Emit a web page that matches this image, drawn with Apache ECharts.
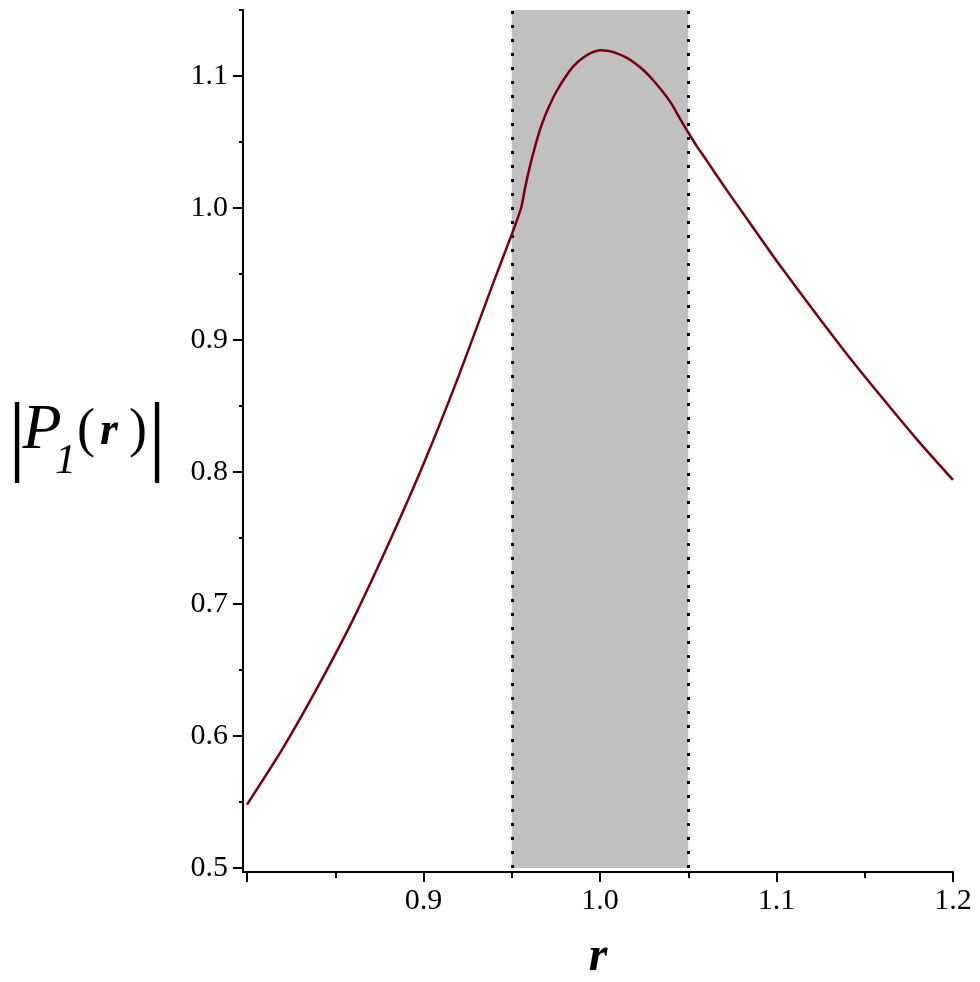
<!DOCTYPE html>
<html>
<head>
<meta charset="utf-8">
<script src="https://cdn.jsdelivr.net/npm/echarts@6/dist/echarts.min.js"></script>
<style>
html,body{margin:0;padding:0;background:#fff;}
#chart{width:980px;height:982px;}
</style>
</head>
<body>
<div id="chart"></div>
<script>
// ---- data ----
const rValues = [0.800, 0.820, 0.840, 0.860, 0.880, 0.900, 0.920, 0.940, 0.950, 0.9553,
  0.9575, 0.960, 0.9625, 0.965, 0.9675, 0.970, 0.975, 0.980, 0.985, 0.990, 0.995, 1.000,
  1.005, 1.010, 1.015, 1.020, 1.025, 1.030, 1.035, 1.040, 1.045, 1.050, 1.055, 1.060,
  1.070, 1.080, 1.090, 1.100, 1.120, 1.140, 1.160, 1.180, 1.200];
const pValues = [0.548, 0.590, 0.637, 0.688, 0.745, 0.806, 0.873, 0.945, 0.980, 1.000,
  1.015, 1.030, 1.043, 1.055, 1.065, 1.0735, 1.0875, 1.0985, 1.1075, 1.1135, 1.1175, 1.1195,
  1.1189, 1.117, 1.1139, 1.1095, 1.104, 1.097, 1.089, 1.080, 1.0685, 1.0572, 1.0465, 1.0368,
  1.017, 0.998, 0.979, 0.960, 0.924, 0.889, 0.856, 0.824, 0.794];
const bandStart = 0.95, bandEnd = 1.05;
const xMajorTicks = [0.8, 0.9, 1.0, 1.1, 1.2];
const xLabelTicks = [0.9, 1.0, 1.1, 1.2];
const xMinorTicks = [0.85, 0.95, 1.05, 1.15];
const yMajorTicks = [0.5, 0.6, 0.7, 0.8, 0.9, 1.0, 1.1];
const yMinorTicks = [0.55, 0.65, 0.75, 0.85, 0.95, 1.05, 1.15];
const xRange = [0.79773, 1.2];
const yRange = [0.49697, 1.15];
const yBase = 0.5, yTop = 1.15;

const font = "'Liberation Serif', 'Times New Roman', serif";
const curve = rValues.map((r, i) => [r, pValues[i]]);

const chart = echarts.init(document.getElementById('chart'), null, {renderer: 'canvas'});
const gridBox = {left: 243, right: 27, top: 10, bottom: 110, containLabel: false, outerBoundsMode: 'none'};

const option = {
  backgroundColor: '#fff',
  animation: false,
  grid: [Object.assign({}, gridBox), Object.assign({}, gridBox)],
  xAxis: [{
    type: 'value', gridIndex: 0, min: xRange[0], max: xRange[1],
    splitLine: {show: false},
    axisLine: {show: true, lineStyle: {color: '#000', width: 2}},
    axisTick: {show: true, length: 10, lineStyle: {color: '#000', width: 2}, customValues: xMajorTicks},
    axisLabel: {show: true, customValues: xLabelTicks, margin: 14, color: '#000',
      fontFamily: font, fontSize: 30, formatter: v => v.toFixed(1)},
    name: 'r', nameLocation: 'middle', nameGap: 62,
    nameTextStyle: {fontFamily: font, fontSize: 48, fontStyle: 'italic', fontWeight: 'bold', color: '#000'}
  }, {
    type: 'value', gridIndex: 1, min: xRange[0], max: xRange[1],
    splitLine: {show: false},
    axisLine: {show: false},
    axisTick: {show: true, length: 6, lineStyle: {color: '#000', width: 2}, customValues: xMinorTicks},
    axisLabel: {show: false}
  }],
  yAxis: [{
    type: 'value', gridIndex: 0, min: yRange[0], max: yRange[1],
    splitLine: {show: false},
    axisLine: {show: true, lineStyle: {color: '#000', width: 2}},
    axisTick: {show: true, length: 10, lineStyle: {color: '#000', width: 2}, customValues: yMajorTicks},
    axisLabel: {show: true, customValues: yMajorTicks, margin: 15, color: '#000',
      fontFamily: font, fontSize: 30, formatter: v => v.toFixed(1)},
    name: '{bar||}{P|P}{sub|1}{par|(}{r|r}{par2|)}{bar2||}',
    nameLocation: 'middle', nameRotate: 0, nameGap: 79,
    nameTextStyle: {
      color: '#000', fontFamily: font, align: 'right',
      rich: {
        bar: {fontFamily: font, fontSize: 88, width: 20, align: 'center', color: '#000'},
        P: {fontFamily: font, fontSize: 64, fontStyle: 'italic', width: 18, align: 'left', padding: [0, 0, 19, 6], color: '#000'},
        sub: {fontFamily: font, fontSize: 42, fontStyle: 'italic', width: 29, align: 'left', padding: [42, 0, 0, 0], color: '#000'},
        par: {fontFamily: font, fontSize: 54, width: 12, align: 'left', padding: [0, 0, 18, 0], color: '#000'},
        r: {fontFamily: font, fontSize: 46, fontStyle: 'italic', fontWeight: 'bold', width: 34, align: 'left', padding: [0, 0, 18, 0], color: '#000'},
        par2: {fontFamily: font, fontSize: 54, width: 24, align: 'left', padding: [0, 0, 18, 0], color: '#000'},
        bar2: {fontFamily: font, fontSize: 88, width: 14, align: 'center', color: '#000'}
      }
    }
  }, {
    type: 'value', gridIndex: 1, min: yRange[0], max: yRange[1],
    splitLine: {show: false},
    axisLine: {show: false},
    axisTick: {show: true, length: 4, lineStyle: {color: '#000', width: 2}, customValues: yMinorTicks},
    axisLabel: {show: false}
  }],
  series: [{
    type: 'line',
    xAxisIndex: 0, yAxisIndex: 0,
    data: curve,
    showSymbol: false,
    smooth: 0.25,
    lineStyle: {color: '#78000E', width: 2.5},
    z: 5,
    markArea: {
      silent: true,
      itemStyle: {color: '#c0c0c0'},
      data: [[{coord: [bandStart, yBase]}, {coord: [bandEnd, yTop]}]]
    },
    markLine: {
      silent: true,
      symbol: 'none',
      label: {show: false},
      lineStyle: {color: '#000', type: [3, 11], width: 3},
      data: [
        [{coord: [bandStart, yBase]}, {coord: [bandStart, yTop]}],
        [{coord: [bandEnd, yBase]}, {coord: [bandEnd, yTop]}]
      ]
    }
  }]
};
chart.setOption(option);
</script>
</body>
</html>
